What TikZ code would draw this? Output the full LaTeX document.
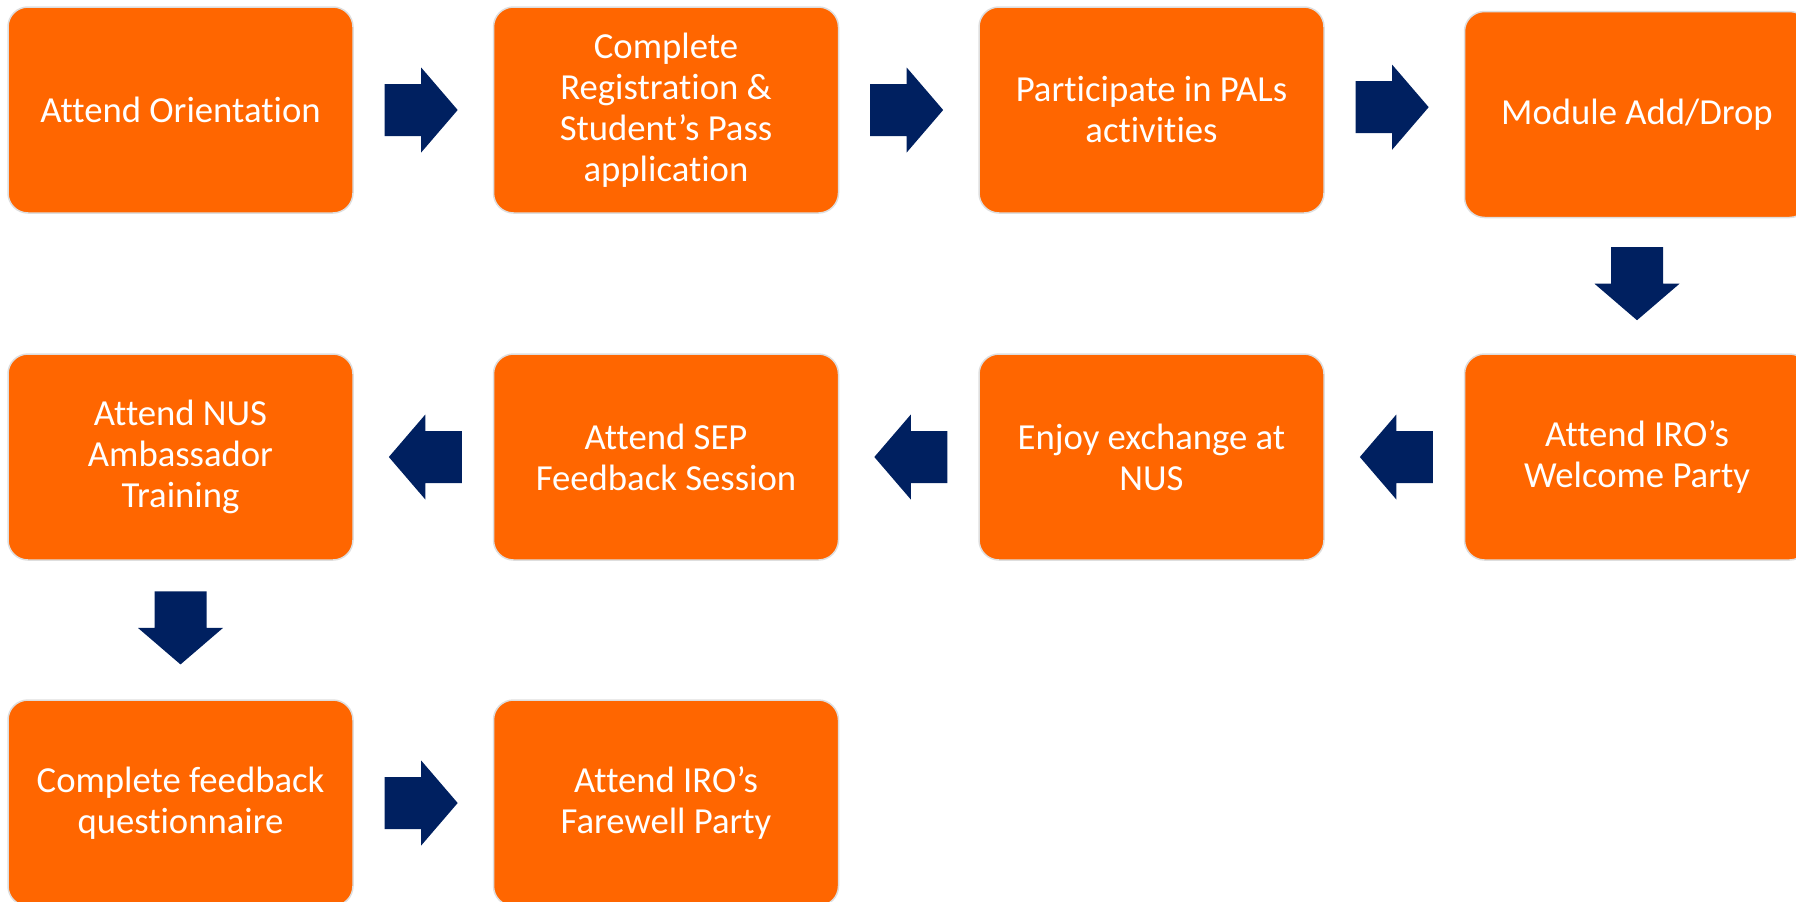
\documentclass[tikz,border=0pt]{standalone}
\usepackage{fontspec}
\setmainfont{Carlito}[Ligatures=NoCommon]
\usetikzlibrary{calc}
\definecolor{boxorange}{RGB}{255,102,0}
\definecolor{boxedge}{RGB}{222,222,222}
\definecolor{navyblue}{RGB}{0,32,96}
\tikzset{
  stepbox/.style={rectangle, rounded corners=20pt, fill=boxorange, draw=boxedge,
    line width=1.5pt, minimum width=345pt, minimum height=206pt, inner sep=0pt,
    text=white, align=center, font=\fontsize{36.7}{41}\selectfont},
  blockarrow/.style={fill=navyblue}
}
% #1 from anchor, #2 to anchor, #3 rotation, #4 extra offset
\newcommand\flowarrow[4]{%
  \path ($(#1)!0.485!(#2)+(#4)$) coordinate (m);
  \fill[blockarrow, shift={(m)}, rotate=#3]
    (-36.5pt,26pt) -- (0pt,26pt) -- (0pt,42.5pt) -- (36.5pt,0pt)
    -- (0pt,-42.5pt) -- (0pt,-26pt) -- (-36.5pt,-26pt) -- cycle;
}
\begin{document}
\begin{tikzpicture}[x=1pt,y=-1pt]
  \useasboundingbox (0,0) rectangle (1796,902);
  \clip (0,0) rectangle (1796,902);
  % row 1
  \node[stepbox] (n1) at (180.5,110) {Attend Orientation};
  \node[stepbox] (n2) at (666,110) {Complete\\Registration \&\\Student’s Pass\\application};
  \node[stepbox] (n3) at (1151.5,110) {Participate in PALs\\activities};
  \node[stepbox] (n4) at (1637,114.5) {Module Add/Drop};
  % row 2
  \node[stepbox] (n5) at (1637,457) {Attend IRO’s\\Welcome Party};
  \node[stepbox] (n6) at (1151.5,457) {Enjoy exchange at\\NUS};
  \node[stepbox] (n7) at (666,457) {Attend SEP\\Feedback Session};
  \node[stepbox] (n8) at (180.5,457) {Attend NUS\\Ambassador\\Training};
  % row 3
  \node[stepbox] (n9) at (180.5,803) {Complete feedback\\questionnaire};
  \node[stepbox] (n10) at (666,803) {Attend IRO’s\\Farewell Party};
  % connectors
  \flowarrow{n1.east}{n2.west}{0}{0,0}
  \flowarrow{n2.east}{n3.west}{0}{0,0}
  \flowarrow{n3.east}{n4.west}{0}{0,-5}
  \flowarrow{n4.south}{n5.north}{-90}{0,0}
  \flowarrow{n5.west}{n6.east}{180}{0,0}
  \flowarrow{n6.west}{n7.east}{180}{0,0}
  \flowarrow{n7.west}{n8.east}{180}{0,0}
  \flowarrow{n8.south}{n9.north}{-90}{0,0}
  \flowarrow{n9.east}{n10.west}{0}{0,0}
\end{tikzpicture}
\end{document}
